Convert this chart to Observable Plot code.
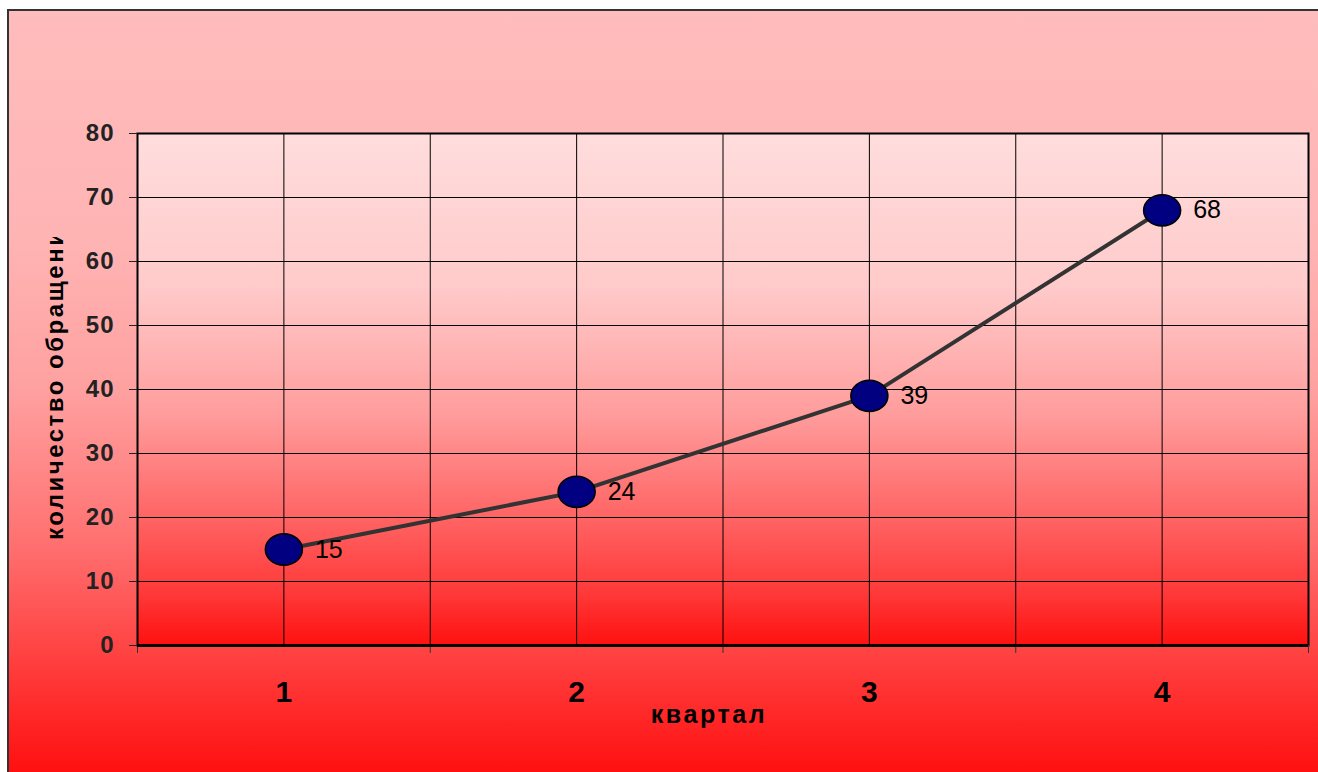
<!DOCTYPE html>
<html>
<head>
<meta charset="utf-8">
<script src="https://cdn.jsdelivr.net/npm/d3@7"></script>
<script src="https://cdn.jsdelivr.net/npm/@observablehq/plot@0.6"></script>
<style>
  html, body { margin: 0; padding: 0; background: #ffffff; width: 1318px; height: 772px; overflow: hidden; }
  #chart {
    position: absolute; left: 7px; top: 9px; width: 1311px; height: 763px;
    border-left: 2px solid #333; border-top: 2px solid #333; box-sizing: border-box;
    background: linear-gradient(to bottom, #ffbcbc 0%, #ffb4b4 30%, #ffa0a0 50%, #ff7070 70%, #ff4040 85%, #ff1010 100%);
    font-family: "Liberation Sans", Arial, sans-serif;
  }
</style>
</head>
<body>
<svg width="0" height="0" style="position:absolute">
  <defs>
    <linearGradient id="plotGrad" x1="0" y1="0" x2="0" y2="1">
      <stop offset="0%" stop-color="#ffdddd"/>
      <stop offset="30%" stop-color="#ffcaca"/>
      <stop offset="55%" stop-color="#ff9c9c"/>
      <stop offset="75%" stop-color="#ff6464"/>
      <stop offset="90%" stop-color="#ff3838"/>
      <stop offset="100%" stop-color="#ff1010"/>
    </linearGradient>
  </defs>
</svg>
<div id="chart"></div>
<script>
const quarters = [1, 2, 3, 4];
const requests = [15, 24, 39, 68];
const yTicks = [0, 10, 20, 30, 40, 50, 60, 70, 80];
const xBoundaries = [0.5, 1.5, 2.5, 3.5, 4.5];
const xGrid = [0.5, 1, 1.5, 2, 2.5, 3, 3.5, 4, 4.5];
const xTitle = "квартал";
const yTitle = "количество обращений";

const data = quarters.map((q, i) => ({quarter: q, value: requests[i]}));

const ellipse = {
  draw(context, size) {
    const r = Math.sqrt(size / Math.PI);
    const rx = r * 1.1, ry = r * 0.93, k = 0.5523;
    context.moveTo(rx, 0);
    context.bezierCurveTo(rx, ry * k, rx * k, ry, 0, ry);
    context.bezierCurveTo(-rx * k, ry, -rx, ry * k, -rx, 0);
    context.bezierCurveTo(-rx, -ry * k, -rx * k, -ry, 0, -ry);
    context.bezierCurveTo(rx * k, -ry, rx, -ry * k, rx, 0);
    context.closePath();
  }
};

const font = "Liberation Sans, Arial, sans-serif";

const plot = Plot.plot({
  width: 1309,
  height: 761,
  marginLeft: 128,
  marginRight: 10,
  marginTop: 122,
  marginBottom: 127,
  style: {background: "transparent", fontFamily: font, color: "black", overflow: "visible"},
  x: {domain: [0.5, 4.5], axis: null},
  y: {domain: [0, 80], axis: null},
  marks: [
    Plot.frame({fill: "url(#plotGrad)", stroke: "none"}),
    Plot.gridX(xGrid, {stroke: "black", strokeOpacity: 1, strokeWidth: 1}),
    Plot.gridY(yTicks, {stroke: "black", strokeOpacity: 1, strokeWidth: 1}),
    Plot.frame({stroke: "black", strokeWidth: 2}),
    Plot.axisY({ticks: yTicks, tickSize: 8, tickPadding: 15, fontSize: 24, fontWeight: "bold", label: null, color: "#222"}),
    Plot.axisX({ticks: xBoundaries, tickSize: 8, tickFormat: () => "", label: null, color: "#333"}),
    Plot.axisX({ticks: quarters, tickSize: 0, tickPadding: 35, tickFormat: d3.format("d"), fontSize: 30, fontWeight: "bold", label: null, color: "black"}),
    Plot.ruleY([0], {stroke: "black", strokeWidth: 3}),
    Plot.line(data, {x: "quarter", y: "value", stroke: "#333333", strokeWidth: 4}),
    Plot.dot(data, {x: "quarter", y: "value", r: 16.8, symbol: ellipse, fill: "#000080", stroke: "black", strokeWidth: 1.6}),
    Plot.text(data, {x: "quarter", y: "value", text: d => String(d.value), dx: 31, textAnchor: "start", fontSize: 25, fill: "black"}),
    Plot.text([xTitle], {frameAnchor: "bottom", dx: -14, dy: 77, fontSize: 25, fontWeight: "bold", fill: "black"})
  ]
});

document.getElementById("chart").appendChild(plot);

const svg = d3.select(plot);
const yStr = yTicks.map(String);
const xStr = quarters.map(String);
const vStr = requests.map(String);
svg.selectAll("text").each(function () {
  const t = this.textContent;
  const g = this.closest("g");
  const anchor = g ? g.getAttribute("text-anchor") : null;
  const s = d3.select(this);
  if (t === xTitle) {
    s.style("font-size", "25px").style("font-weight", "bold").style("letter-spacing", "2.6px");
  } else if (anchor === "end" && yStr.includes(t)) {
    s.style("font-size", "24px").style("font-weight", "bold").style("letter-spacing", "1px");
  } else if (anchor === "start" && vStr.includes(t)) {
    s.style("font-size", "25px").style("font-weight", "normal");
  } else if (xStr.includes(t)) {
    s.style("font-size", "30px").style("font-weight", "bold");
  }
});

// rotated y-axis title, clipped at its top like the reference
svg.append("defs").append("clipPath").attr("id", "ylabClip")
  .append("rect").attr("x", 0).attr("y", 226).attr("width", 120).attr("height", 500);
svg.append("g").attr("clip-path", "url(#ylabClip)")
  .append("text")
  .attr("transform", "translate(48,529) rotate(-90)")
  .attr("text-anchor", "start")
  .attr("dominant-baseline", "middle")
  .style("font-family", font)
  .style("font-size", "24px")
  .style("font-weight", "bold")
  .style("letter-spacing", "2.5px")
  .attr("fill", "black")
  .text(yTitle);
</script>
</body>
</html>
